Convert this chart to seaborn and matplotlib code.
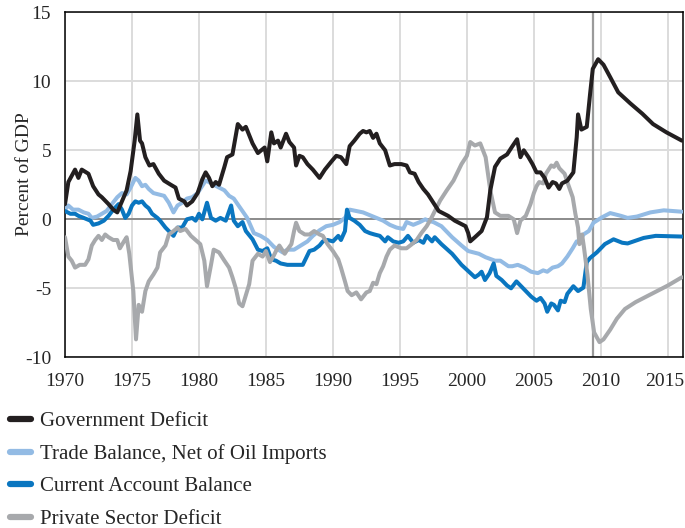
import matplotlib
matplotlib.use("Agg")
import matplotlib.pyplot as plt
import matplotlib.transforms as mtransforms
import seaborn as sns

# values (percent of GDP)
gov_years = [1970.0, 1970.25, 1970.75, 1971.0, 1971.25, 1971.75, 1972.1, 1972.5, 1972.75, 1973.25,
             1973.6, 1973.9, 1974.25, 1974.6, 1974.9, 1975.2, 1975.4, 1975.6, 1975.75, 1976.0,
             1976.3, 1976.6, 1977.0, 1977.4, 1977.9, 1978.25, 1978.5, 1978.9, 1979.1, 1979.5,
             1979.9, 1980.25, 1980.5, 1980.75, 1981.0, 1981.25, 1981.5, 1981.9, 1982.1, 1982.5,
             1982.9, 1983.25, 1983.5, 1984.0, 1984.4, 1984.9, 1985.1, 1985.4, 1985.6, 1985.9,
             1986.1, 1986.5, 1986.75, 1987.1, 1987.25, 1987.5, 1987.75, 1988.1, 1988.5, 1989.0,
             1989.4, 1989.9, 1990.25, 1990.6, 1991.0, 1991.25, 1991.6, 1992.0, 1992.25, 1992.5,
             1992.75, 1993.0, 1993.25, 1993.5, 1993.9, 1994.25, 1994.6, 1995.1, 1995.5, 1995.75,
             1996.1, 1996.4, 1996.75, 1997.1, 1997.5, 1997.9, 1998.6, 1999.1, 1999.9, 2000.1,
             2000.25, 2000.6, 2001.1, 2001.5, 2001.75, 2002.1, 2002.5, 2003.0, 2003.4, 2003.75,
             2004.0, 2004.25, 2004.6, 2004.9, 2005.2, 2005.5, 2005.8, 2006.1, 2006.4, 2006.65,
             2006.9, 2007.1, 2007.5, 2007.95, 2008.2, 2008.3, 2008.55, 2008.95, 2009.2, 2009.4,
             2009.8, 2010.2, 2010.7, 2011.3, 2012.2, 2013.1, 2013.9, 2014.9, 2016.05]
gov_vals = [1.1, 2.7, 3.6, 3.0, 3.6, 3.3, 2.4, 1.8, 1.6, 1.1,
            0.7, 0.5, 1.3, 2.1, 3.5, 5.7, 7.6, 5.7, 5.5, 4.5,
            3.9, 4.0, 3.3, 2.8, 2.5, 2.3, 1.5, 1.3, 1.0, 1.3,
            1.9, 2.9, 3.4, 3.0, 2.4, 2.7, 2.5, 3.8, 4.5, 4.7,
            6.9, 6.5, 6.7, 5.5, 4.8, 5.2, 4.2, 6.3, 5.5, 5.7,
            5.2, 6.2, 5.6, 5.2, 3.9, 4.6, 4.5, 4.0, 3.6, 3.0,
            3.6, 4.2, 4.6, 4.5, 4.0, 5.3, 5.7, 6.2, 6.4, 6.3,
            6.4, 5.9, 6.2, 5.5, 5.0, 3.9, 4.0, 4.0, 3.9, 3.4,
            3.3, 2.7, 2.2, 1.8, 1.2, 0.6, 0.25, -0.1, -0.5, -1.0,
            -1.6, -1.3, -0.85, 0.15, 2.1, 3.8, 4.4, 4.7, 5.3, 5.8,
            4.5, 5.0, 4.5, 4.0, 3.4, 3.4, 3.0, 2.3, 2.7, 2.6,
            2.2, 2.6, 2.8, 3.4, 5.95, 7.6, 6.5, 6.7, 9.1, 10.9,
            11.6, 11.2, 10.3, 9.2, 8.4, 7.65, 6.9, 6.3, 5.7]

trade_years = [1970.0, 1970.25, 1970.6, 1971.0, 1971.4, 1971.75, 1972.0, 1972.4, 1972.75, 1973.1,
               1973.5, 1973.9, 1974.25, 1974.6, 1974.9, 1975.25, 1975.5, 1975.75, 1976.0, 1976.25,
               1976.6, 1977.0, 1977.4, 1977.75, 1978.1, 1978.4, 1978.75, 1979.1, 1979.5, 1979.9,
               1980.1, 1980.5, 1980.75, 1981.1, 1981.5, 1981.9, 1982.25, 1982.6, 1983.1, 1983.6,
               1984.1, 1984.6, 1985.1, 1985.6, 1986.25, 1986.6, 1987.1, 1987.6, 1988.1, 1988.5,
               1989.0, 1989.5, 1990.0, 1990.5, 1990.9, 1991.25, 1991.75, 1992.25, 1992.75, 1993.25,
               1993.75, 1994.25, 1994.75, 1995.25, 1995.5, 1996.0, 1996.5, 1996.9, 1997.1, 1997.5,
               1998.1, 1998.9, 1999.6, 2000.1, 2000.9, 2001.4, 2002.1, 2002.5, 2003.1, 2003.4,
               2003.8, 2004.3, 2004.8, 2005.3, 2005.7, 2006.0, 2006.4, 2006.8, 2007.1, 2007.5,
               2007.9, 2008.2, 2008.45, 2008.7, 2009.1, 2009.45, 2010.1, 2010.7, 2011.5, 2012.0,
               2012.7, 2013.7, 2014.7, 2016.05]
trade_vals = [0.7, 1.0, 0.7, 0.7, 0.5, 0.4, 0.1, 0.2, 0.4, 0.6,
              1.1, 1.6, 1.9, 1.8, 2.3, 3.0, 2.8, 2.4, 2.5, 2.2,
              1.9, 1.8, 1.7, 1.2, 0.5, 1.0, 1.2, 1.5, 1.6, 1.9,
              2.2, 2.8, 2.7, 2.5, 2.3, 2.1, 1.7, 1.5, 0.8, 0.1,
              -1.0, -1.2, -1.5, -2.0, -2.4, -2.2, -2.2, -1.9, -1.6, -1.2,
              -0.8, -0.5, -0.4, -0.2, 0.1, 0.7, 0.6, 0.5, 0.3, 0.1,
              -0.1, -0.4, -0.6, -0.7, -0.2, -0.4, -0.2, 0.0, -0.1, -0.2,
              -0.5, -1.3, -1.9, -2.3, -2.5, -2.75, -3.0, -3.0, -3.4, -3.4,
              -3.3, -3.5, -3.8, -3.9, -3.7, -3.8, -3.5, -3.4, -3.2, -2.7,
              -2.1, -1.6, -1.6, -1.1, -0.85, -0.25, 0.15, 0.45, 0.25, 0.1,
              0.2, 0.5, 0.65, 0.55]

ca_years = [1970.0, 1970.4, 1970.75, 1971.0, 1971.4, 1971.9, 1972.1, 1972.5, 1972.9, 1973.25,
            1973.6, 1974.0, 1974.25, 1974.5, 1974.75, 1975.0, 1975.25, 1975.5, 1975.75, 1976.0,
            1976.25, 1976.5, 1976.9, 1977.1, 1977.5, 1977.9, 1978.1, 1978.4, 1978.75, 1979.1,
            1979.5, 1979.75, 1980.0, 1980.25, 1980.6, 1980.9, 1981.25, 1981.6, 1982.0, 1982.4,
            1982.6, 1982.9, 1983.25, 1983.5, 1984.0, 1984.4, 1984.75, 1985.1, 1985.4, 1985.75,
            1986.1, 1986.6, 1987.25, 1987.75, 1988.0, 1988.25, 1988.6, 1989.0, 1989.25, 1989.6,
            1990.0, 1990.4, 1990.6, 1990.9, 1991.05, 1991.25, 1991.6, 1992.0, 1992.4, 1992.75,
            1993.1, 1993.5, 1993.9, 1994.1, 1994.5, 1994.9, 1995.25, 1995.6, 1996.0, 1996.4,
            1996.75, 1997.0, 1997.4, 1997.6, 1998.1, 1998.9, 1999.6, 2000.1, 2000.6, 2000.9,
            2001.1, 2001.35, 2001.7, 2002.0, 2002.2, 2002.6, 2003.0, 2003.3, 2003.7, 2004.1,
            2004.4, 2004.8, 2005.2, 2005.5, 2005.8, 2006.0, 2006.3, 2006.5, 2006.8, 2007.0,
            2007.3, 2007.5, 2007.95, 2008.3, 2008.7, 2008.95, 2009.2, 2009.7, 2010.3, 2010.95,
            2011.6, 2012.0, 2013.2, 2014.1, 2016.05]
ca_vals = [0.6, 0.4, 0.4, 0.25, 0.1, -0.1, -0.4, -0.3, -0.1, 0.25,
           0.7, 1.1, 0.7, 0.1, 0.4, 1.0, 1.3, 1.2, 1.3, 1.0,
           0.8, 0.4, 0.1, -0.1, -0.6, -1.0, -1.2, -0.6, -0.6, 0.0,
           0.1, -0.1, 0.4, 0.0, 1.2, 0.1, -0.1, 0.1, -0.1, 1.0,
           -0.1, -0.5, -0.2, -0.85, -1.45, -2.2, -2.3, -2.1, -2.9, -3.0,
           -3.2, -3.3, -3.3, -3.3, -2.8, -2.3, -2.2, -1.9, -1.6, -1.5,
           -1.6, -1.2, -1.5, -0.85, 0.7, 0.1, -0.1, -0.4, -0.85, -1.0,
           -1.1, -1.2, -1.6, -1.3, -1.6, -1.7, -1.6, -1.2, -1.7, -1.5,
           -1.7, -1.2, -1.6, -1.3, -1.8, -2.5, -3.3, -3.75, -4.2, -4.0,
           -3.8, -4.4, -3.9, -3.2, -4.1, -4.4, -4.8, -5.0, -4.5, -4.9,
           -5.2, -5.6, -5.9, -5.7, -6.1, -6.7, -6.1, -6.2, -6.6, -5.9,
           -6.0, -5.4, -4.85, -5.2, -4.95, -3.1, -2.8, -2.4, -1.8, -1.45,
           -1.7, -1.75, -1.35, -1.2, -1.25]

priv_years = [1970.0, 1970.25, 1970.5, 1970.75, 1971.1, 1971.5, 1971.75, 1972.0, 1972.25, 1972.5,
              1972.75, 1973.0, 1973.25, 1973.6, 1973.9, 1974.1, 1974.4, 1974.6, 1974.8, 1975.1,
              1975.3, 1975.5, 1975.75, 1976.0, 1976.25, 1976.6, 1976.9, 1977.1, 1977.5, 1977.75,
              1978.1, 1978.4, 1978.6, 1979.0, 1979.4, 1979.75, 1980.1, 1980.4, 1980.6, 1980.9,
              1981.1, 1981.5, 1981.9, 1982.25, 1982.5, 1982.75, 1983.0, 1983.25, 1983.5, 1983.75,
              1984.0, 1984.4, 1984.75, 1985.0, 1985.3, 1985.6, 1985.75, 1986.0, 1986.4, 1986.6,
              1986.9, 1987.1, 1987.25, 1987.5, 1987.9, 1988.25, 1988.6, 1989.0, 1989.25, 1989.6,
              1990.0, 1990.4, 1990.6, 1990.9, 1991.1, 1991.4, 1991.75, 1992.1, 1992.5, 1992.75,
              1993.0, 1993.25, 1993.5, 1993.75, 1994.0, 1994.25, 1994.6, 1995.1, 1995.5, 1995.9,
              1996.25, 1996.6, 1997.0, 1997.3, 1998.0, 1998.5, 1999.0, 1999.6, 2000.0, 2000.25,
              2000.6, 2001.0, 2001.4, 2001.75, 2002.1, 2002.5, 2003.1, 2003.5, 2003.75, 2004.0,
              2004.4, 2004.75, 2005.0, 2005.2, 2005.4, 2005.7, 2005.9, 2006.3, 2006.5, 2006.7,
              2006.9, 2007.3, 2007.5, 2007.9, 2008.1, 2008.3, 2008.4, 2008.6, 2008.75, 2009.0,
              2009.25, 2009.5, 2009.9, 2010.2, 2010.7, 2011.2, 2011.8, 2012.6, 2013.4, 2014.2,
              2015.0, 2016.05]
priv_vals = [-1.3, -2.7, -3.0, -3.5, -3.3, -3.3, -2.9, -1.9, -1.5, -1.2,
             -1.5, -1.1, -1.3, -1.5, -1.5, -2.1, -1.6, -1.3, -2.5, -5.2,
             -8.7, -6.2, -6.7, -5.2, -4.5, -4.0, -3.5, -2.4, -1.9, -1.1,
             -0.85, -0.6, -0.85, -0.7, -1.2, -1.5, -1.8, -3.0, -4.85, -3.3,
             -2.2, -2.4, -3.0, -3.5, -4.2, -5.0, -6.1, -6.3, -5.5, -4.7,
             -3.0, -2.5, -2.7, -2.3, -3.1, -2.6, -2.3, -1.9, -2.5, -2.2,
             -1.8, -0.85, -0.25, -0.85, -1.1, -1.1, -0.85, -1.1, -1.2, -1.8,
             -2.3, -2.9, -3.5, -4.5, -5.2, -5.5, -5.3, -5.8, -5.3, -5.2,
             -4.6, -4.7, -3.9, -3.4, -2.7, -2.2, -1.9, -2.1, -2.1, -1.8,
             -1.5, -1.0, -0.5, 0.0, 1.35, 2.1, 2.8, 4.0, 4.6, 5.6,
             5.35, 5.5, 4.5, 2.1, 0.5, 0.25, 0.25, 0.0, -1.0, -0.1,
             0.25, 1.1, 1.9, 2.4, 2.7, 2.6, 3.3, 3.9, 3.8, 4.1,
             3.7, 3.3, 2.7, 1.6, 0.4, -0.6, -1.8, -1.1, -2.1, -4.0,
             -6.5, -8.2, -8.9, -8.7, -8.0, -7.2, -6.5, -6.0, -5.6, -5.2,
             -4.8, -4.2]

labels = ["Government Deficit", "Trade Balance, Net of Oil Imports",
          "Current Account Balance", "Private Sector Deficit"]
colors = ["#231f20", "#93bbe4", "#0a76c0", "#a7a9ac"]
year_ticks = list(range(1970, 2016, 5))
pct_ticks = [-10, -5, 0, 5, 10, 15]

sns.set_style("white")
plt.rcParams["font.family"] = ["Liberation Serif", "DejaVu Serif"]
plt.rcParams["axes.unicode_minus"] = False

fig = plt.figure(figsize=(6.85, 5.28), dpi=100)
ax = fig.add_axes([0.0949, 0.3233, 0.9015, 0.6534])

ax.axhline(0, color="#8c8c8c", lw=1.4, zorder=1)
ax.axvline(2009.4, color="#9a9a9a", lw=1.6, zorder=1)

series = [(trade_years, trade_vals, 1), (ca_years, ca_vals, 2),
          (priv_years, priv_vals, 3), (gov_years, gov_vals, 0)]
handles = {}
for xs, ys, i in series:
    sns.lineplot(x=xs, y=ys, color=colors[i], linewidth=2.9, ax=ax,
                 estimator=None, sort=False, zorder=3)
    handles[i] = ax.lines[-1]

ax.set_xlim(1970, 2016.1)
ax.set_ylim(-10, 15)
ax.set_xticks(year_ticks)
ax.set_yticks(pct_ticks)
ax.grid(True, color="#dcdcdc", lw=1.4, zorder=0)
ax.set_axisbelow(True)
for s in ax.spines.values():
    s.set_color("black")
    s.set_linewidth(1.1)
ax.tick_params(direction="in", length=9, width=1.1, color="black", labelsize=14)
ax.tick_params(axis="x", pad=11)
ax.tick_params(axis="y", pad=10)
ax.set_ylabel("Percent of GDP", fontsize=14)
ax.yaxis.set_label_coords(-0.052, 0.53)
ax.set_xlabel("")

# the last year label sits against the right edge, nudge it inside
last = ax.get_xticklabels()[-1]
last.set_transform(last.get_transform() +
                   mtransforms.ScaledTranslation(-3.5 / 100, 0, fig.dpi_scale_trans))

fig.legend([handles[i] for i in range(4)], labels, loc="upper left",
           bbox_to_anchor=(0.015, 0.2205), frameon=False, fontsize=15,
           handlelength=0.98, handletextpad=0.45, labelspacing=0.62,
           borderpad=0, borderaxespad=0)
for ln in fig.legends[0].get_lines():
    ln.set_linewidth(4.5)

fig.savefig("out.png", dpi=100)
